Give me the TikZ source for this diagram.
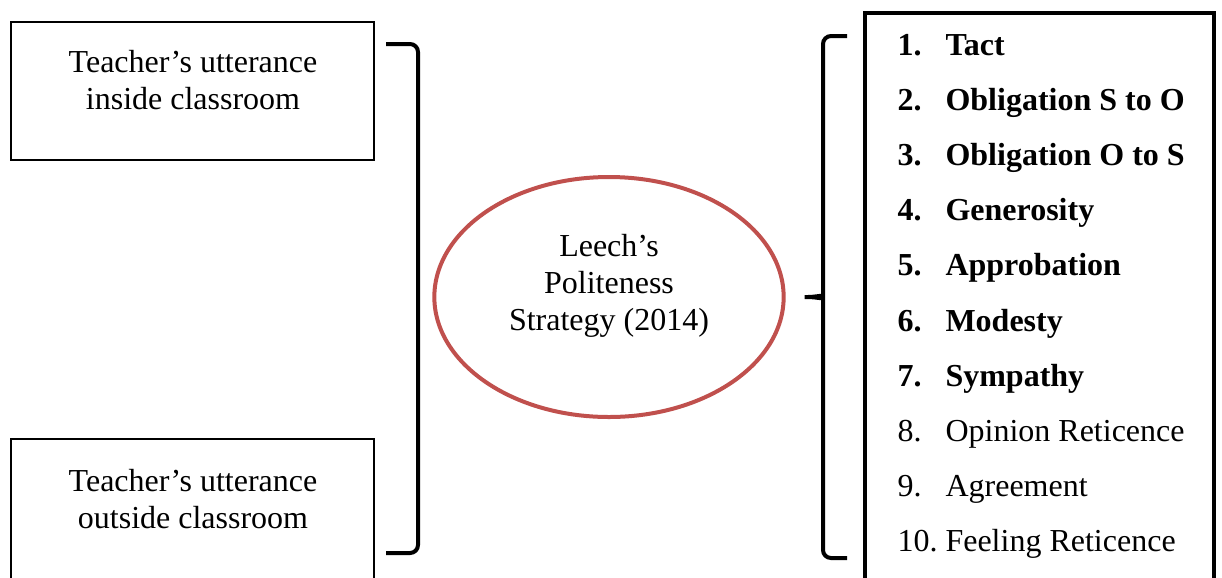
\documentclass[tikz,border=0pt]{standalone}
\usepackage{fontspec}
\setmainfont{Liberation Serif}
\usetikzlibrary{shapes.geometric}
\definecolor{ovalred}{HTML}{C0504D}

\begin{document}
\begin{tikzpicture}[x=0.375pt, y=-0.375pt, font=\fontsize{12}{13.9}\selectfont,
    box/.style={draw, line width=1.1pt},
    bracket/.style={line width=1.5pt, rounded corners=3pt},
    oval/.style={draw=ovalred, line width=1.5pt, ellipse, inner sep=0pt,
        minimum width=131pt, minimum height=90pt}]
    \useasboundingbox (0,0) rectangle (1222,577);
    \clip (0,0) rectangle (1222,577);

    % teacher's utterances
    \draw[box] (11,22) rectangle (374,160);
    \node[align=center] (inside) at (193,80) {Teacher's utterance\\inside classroom};
    \draw[box] (11,439) rectangle (374,620);
    \node[align=center] (outside) at (193,499) {Teacher's utterance\\outside classroom};

    % left bracket
    \draw[bracket] (386,44) -- (418,44) -- (418,553) -- (386,553);

    % Leech's strategy
    \node[oval] (leech) at (609,297) {};
    \node[align=center] (leechtxt) at (609,286) {Leech's\\Politeness\\Strategy (2014)};

    % right brace
    \draw[bracket] (847,36) -- (823,36) -- (823,288)
        .. controls (823,295) and (815,297) .. (800,297)
        .. controls (815,297) and (823,299) .. (823,306) -- (823,558) -- (847,558);

    % maxims
    \draw[box, line width=1.4pt] (865,13) rectangle (1214,620);
    \foreach \txt [count=\k] in {\bfseries Tact, \bfseries Obligation S to O,
        \bfseries Obligation O to S, \bfseries Generosity, \bfseries Approbation,
        \bfseries Modesty, \bfseries Sympathy, Opinion Reticence, Agreement,
        Feeling Reticence} {
        \pgfmathsetmacro{\yy}{44+(\k-1)*55.2+11}
        \ifnum\k<8
            \node[anchor=base west, inner sep=0pt] (num\k) at (897,\yy) {\bfseries\k.};
        \else
            \node[anchor=base west, inner sep=0pt] (num\k) at (897,\yy) {\k.};
        \fi
        \node[anchor=base west, inner sep=0pt] (item\k) at (945,\yy) {\txt};
    }
\end{tikzpicture}
\end{document}
